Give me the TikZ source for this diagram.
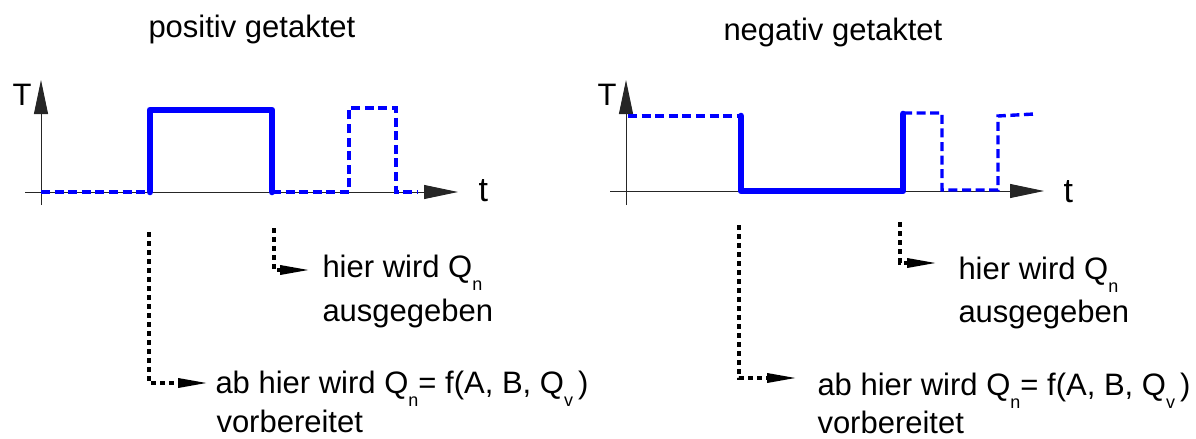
\documentclass[tikz,border=0pt]{standalone}
\usepackage{fontspec}
\setmainfont{Liberation Sans}
\usetikzlibrary{arrows.meta}
\newcommand{\subidx}[1]{\raisebox{-0.42em}{\fontsize{9}{9}\selectfont #1}}

\begin{document}
\begin{tikzpicture}[x=0.5pt,y=-0.5pt,line width=0.5pt,
    axis/.style={-{Triangle[length=17pt,width=7pt]},black!85},
    clk/.style={blue,line width=3.3pt,line join=round,line cap=round},
    rest/.style={blue,line width=1.7pt,dash pattern=on 4.5pt off 2.3pt},
    hint/.style={black,line width=1.7pt,dash pattern=on 2.6pt off 1.9pt,
      -{Triangle[length=15pt,width=4.5pt]}},
    lbl/.style={anchor=base west,inner sep=0pt,font=\fontsize{15.5}{18}\selectfont}]
  \useasboundingbox (0,0) rectangle (1196,439);
  % positiv getaktet
  \node[lbl] (titlePos) at (148,38) {positiv getaktet};
  \draw[axis] (41,205) -- (41,80);
  \draw[axis] (25,192) -- (458,192);
  \node[lbl] (TPos) at (12,105) {T};
  \node[lbl,font=\fontsize{17}{18}\selectfont] (tPos) at (478,201) {t};
  \draw[rest] (41,192) -- (150,192);
  \draw[clk] (150,192) -- (150,110) -- (272,110) -- (272,192);
  \draw[rest] (272,192) -- (349,192) -- (349,108) -- (396,108) -- (396,192) -- (418,192);
  % negativ getaktet
  \node[lbl] (titleNeg) at (723,40) {negativ getaktet};
  \draw[axis] (626,205) -- (626,80);
  \draw[axis] (610,191) -- (1044,191);
  \node[lbl] (TNeg) at (597,105) {T};
  \node[lbl,font=\fontsize{17}{18}\selectfont] (tNeg) at (1063,202) {t};
  \draw[rest] (628,116) -- (740,116);
  \draw[clk] (741,116) -- (741,191) -- (903,191) -- (903,114);
  \draw[rest] (903,113) -- (942,113) -- (942,190) -- (998,190) -- (998,116) -- (1034,114);
  % hinweise
  \node[lbl] (hierPos) at (322,277) {hier wird Q\subidx{n}};
  \node[lbl] (ausPos) at (322,321) {ausgegeben};
  \node[lbl] (abPos) at (215,393) {ab hier wird Q\subidx{n}= f(A, B, Q\subidx{v}\,)};
  \node[lbl] (vorPos) at (216,432) {vorbereitet};
  \coordinate (fallPos) at (274,228);
  \coordinate (risePos) at (149,232);
  \draw[hint] (fallPos) |- ([shift={(-12,-7)}]hierPos.base west);
  \draw[hint] (risePos) |- ([shift={(-7,-10)}]abPos.base west);
  \node[lbl] (hierNeg) at (958,279) {hier wird Q\subidx{n}};
  \node[lbl] (ausNeg) at (958,322) {ausgegeben};
  \node[lbl] (abNeg) at (817,395) {ab hier wird Q\subidx{n}= f(A, B, Q\subidx{v}\,)};
  \node[lbl] (vorNeg) at (817,433) {vorbereitet};
  \coordinate (riseNeg) at (900,222);
  \coordinate (fallNeg) at (739,225);
  \draw[hint] (riseNeg) |- ([shift={(-21,-16)}]hierNeg.base west);
  \draw[hint] (fallNeg) |- ([shift={(-20,-17)}]abNeg.base west);
\end{tikzpicture}
\end{document}
